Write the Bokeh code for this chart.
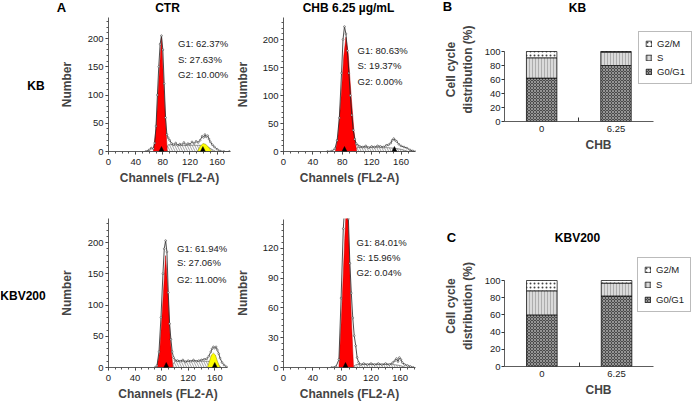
from bokeh.plotting import figure
from bokeh.layouts import row, column
from bokeh.models import (Range1d, SingleIntervalTicker, FixedTicker, Label, Legend,
                          LegendItem, Arrow, NormalHead, ColumnDataSource)
from bokeh.core.properties import value
from bokeh.embed import file_html
from bokeh.resources import INLINE

FONT = "Liberation Sans"

# ---------------- data ----------------
# KB, control: DNA histogram (channel, count)
kb_ctr_ch = [55, 60, 63, 66, 68, 70, 72, 74, 76, 78, 80, 82, 84, 86, 88, 90, 93, 96, 99, 102, 105, 108,
             111, 114, 117, 120, 123, 126, 129, 132, 135, 138, 140, 142, 144, 146, 148, 150, 153, 156,
             160, 164, 170, 178]
kb_ctr_n = [0, 3, 6, 5, 15, 45, 100, 150, 190, 205, 180, 120, 60, 30, 24, 20, 14, 12, 15, 11, 13, 12,
            16, 12, 14, 13, 17, 14, 18, 16, 20, 27, 25, 30, 26, 28, 22, 17, 12, 8, 4, 1, 0, 0]
kb_ctr_g1_ch = [66, 70, 74, 78, 82, 86.5]
kb_ctr_g1_n = [0, 40, 125, 202, 100, 0]
kb_ctr_s_ch = [84, 88, 95, 105, 115, 125, 135, 145, 152, 158]
kb_ctr_s_n = [0, 12, 12, 11, 11, 11, 11, 9, 4, 0]
kb_ctr_g2_ch = [131, 135, 139, 143, 147, 152]
kb_ctr_g2_n = [0, 9, 14, 13, 8, 0]
kb_ctr_peaks = [78, 139]
kb_ctr_text = ["G1: 62.37%", "S: 27.63%", "G2: 10.00%"]

# KB, CHB 6.25 ug/mL
kb_chb_ch = [60, 66, 70, 73, 76, 79, 81, 83, 85, 87, 89, 91, 93, 95, 97, 99, 101, 104, 108, 112, 116,
             120, 124, 128, 132, 136, 140, 143, 146, 148, 150, 152, 154, 157, 160, 164, 168, 172, 176, 180]
kb_chb_n = [0, 1, 5, 20, 60, 140, 200, 223, 210, 180, 140, 100, 65, 38, 22, 14, 11, 9, 8, 10, 7,
            9, 8, 10, 9, 8, 11, 12, 15, 20, 23, 20, 18, 13, 10, 8, 6, 3, 1, 0]
kb_chb_g1_ch = [70.5, 74, 78, 82, 85, 88, 92, 96, 99.6]
kb_chb_g1_n = [0, 25, 90, 170, 204, 175, 100, 35, 0]
kb_chb_s_ch = [96, 100, 110, 120, 130, 140, 150, 160, 170]
kb_chb_s_n = [0, 7, 7, 7, 7, 7, 6, 4, 0]
kb_chb_peaks = [83, 151]
kb_chb_text = ["G1: 80.63%", "S: 19.37%", "G2: 0.00%"]

# KBV200, control
kbv_ctr_ch = [70, 73, 76, 79, 82, 84, 86, 88, 90, 92, 94, 96, 98, 100, 104, 108, 112, 116, 120, 124,
              128, 132, 136, 140, 144, 148, 151, 154, 156, 158, 160, 162, 164, 166, 168, 171, 174, 178, 182]
kbv_ctr_n = [0, 3, 25, 80, 150, 190, 203, 185, 120, 70, 45, 25, 16, 12, 11, 10, 12, 9, 11, 10,
             12, 10, 11, 12, 13, 14, 18, 25, 30, 33, 31, 33, 28, 22, 15, 8, 4, 1, 0]
kbv_ctr_g1_ch = [73, 77, 81, 86, 89, 93, 97]
kbv_ctr_g1_n = [0, 25, 90, 179, 130, 45, 0]
kbv_ctr_s_ch = [94, 100, 110, 120, 130, 140, 150, 158, 164, 170]
kbv_ctr_s_n = [0, 10, 10, 10, 10, 10, 10, 9, 5, 0]
kbv_ctr_g2_ch = [149, 152, 155, 158, 161, 164, 168]
kbv_ctr_g2_n = [0, 10, 20, 23, 20, 10, 0]
kbv_ctr_peaks = [87, 160]
kbv_ctr_text = ["G1: 61.94%", "S: 27.06%", "G2: 11.00%"]

# KBV200, CHB 6.25 ug/mL
kbv_chb_ch = [66, 72, 76, 79, 82, 85, 87, 89, 91, 93, 95, 97, 99, 101, 103, 106, 110, 115, 120, 125,
              130, 135, 140, 145, 150, 153, 155, 157, 159, 161, 163, 166, 170, 174, 178]
kbv_chb_n = [0, 1, 8, 70, 140, 175, 178, 150, 105, 75, 50, 32, 22, 10, 5, 3, 4, 3, 4, 3,
             4, 3, 4, 3, 5, 7, 9, 6, 10, 8, 5, 3, 2, 1, 0]
kbv_chb_g1_ch = [76, 80, 84, 87, 90, 93, 96]
kbv_chb_g1_n = [0, 60, 130, 175, 120, 50, 0]
kbv_chb_s_ch = [93, 100, 110, 120, 130, 140, 150, 160, 168]
kbv_chb_s_n = [0, 3, 3, 3, 3, 3, 3, 2, 0]
kbv_chb_peaks = [85]
kbv_chb_text = ["G1: 84.01%", "S: 15.96%", "G2: 0.04%"]

# bar charts: cell cycle distribution (%)
doses = ["0", "6.25"]
kb_g0g1 = [62, 80]
kb_s = [29, 19]
kb_g2m = [9, 1]
kbv_g0g1 = [60, 82]
kbv_s = [28, 15]
kbv_g2m = [12, 3]


# ---------------- helpers ----------------
def make_fig(fig_x, fig_y, fig_w, fig_h, frame, xr, yr):
    l, t, r, b = frame
    p = figure(width=fig_w, height=fig_h, x_range=Range1d(*xr), y_range=Range1d(*yr),
               output_backend="svg", toolbar_location=None, title=None, frame_align=False,
               min_border_left=l - fig_x, min_border_right=fig_x + fig_w - r,
               min_border_top=t - fig_y, min_border_bottom=fig_y + fig_h - b)
    p.outline_line_color = None
    p.xgrid.visible = False
    p.ygrid.visible = False
    p.border_fill_color = "white"
    return p


def text_strip(x0, y0, w, h, items):
    p = figure(width=w, height=h, x_range=Range1d(x0, x0 + w), y_range=Range1d(y0 + h, y0),
               x_axis_location=None, y_axis_location=None, min_border=0, title=None,
               toolbar_location=None, output_backend="svg", frame_align=False)
    p.outline_line_color = None
    p.grid.visible = False
    for (tx, ty, t, size, align) in items:
        p.text(x=[tx], y=[ty], text=[t], text_font=value(FONT), text_font_size=value(f"{size}px"),
               text_font_style=value("bold"), text_align=value(align),
               text_baseline=value("middle"), text_color="black")
    return p


def put(p, frame, px, py, text, size, color="#222222"):
    l, t, r, b = frame
    p.add_layout(Label(x=px - l, y=b - py, x_units="screen", y_units="screen", text=text,
                       text_font=FONT, text_font_size=f"{size}px", text_align="left",
                       text_baseline="middle", text_color=color))


def style_axis(ax, label, label_standoff):
    ax.axis_label = label
    ax.axis_label_text_font = FONT
    ax.axis_label_text_font_size = "12px"
    ax.axis_label_text_font_style = "bold"
    ax.axis_label_standoff = label_standoff
    ax.major_label_text_font = FONT
    ax.major_label_text_font_size = "9.5px"
    ax.major_label_text_color = "#222222"
    ax.axis_line_color = "#333333"
    ax.axis_line_width = 0.8
    ax.major_tick_line_color = "#333333"
    ax.minor_tick_line_color = "#555555"


def histogram(fig_x, fig_y, fig_w, fig_h, frame, xscale, yscale, yint, ylab_off,
              ch, n, g1c, g1n, sc, sn, g2c, g2n, peaks, texts, text_x, text_ys, ybound=None):
    l, t, r, b = frame
    xr = (0, (r - l) / xscale)
    yr = (0, (b - t) / yscale)
    p = make_fig(fig_x, fig_y, fig_w, fig_h, frame, xr, yr)
    p.xaxis.ticker = SingleIntervalTicker(interval=40, num_minor_ticks=4)
    p.yaxis.ticker = SingleIntervalTicker(interval=yint, num_minor_ticks=5)
    if ybound is not None:
        p.yaxis.bounds = (0, ybound)
    style_axis(p.xaxis[0], "Channels (FL2-A)", 3)
    style_axis(p.yaxis[0], "Number", ylab_off)
    for ax in (p.xaxis[0], p.yaxis[0]):
        ax.major_tick_out = 3
        ax.major_tick_in = 0
        ax.minor_tick_out = 2
        ax.minor_tick_in = 0
    p.xaxis.major_label_standoff = 4
    p.yaxis.major_label_standoff = 2
    p.patch(sc, sn, fill_color=None, hatch_pattern="left_diagonal_line", hatch_color="#666666",
            hatch_scale=5, hatch_weight=0.6, line_color="#555555", line_width=0.6)
    p.patch(g1c, g1n, fill_color="#ff0000", line_color="#bb0000", line_width=0.5)
    if g2c:
        p.patch(g2c, g2n, fill_color="#ffff00", line_color="#888800", line_width=0.5)
    p.line(ch, n, line_color="#222222", line_width=0.8)
    p.scatter(ch, n, size=1.8, marker="circle", fill_color="white", line_color="#222222",
              line_width=0.5)
    head_h = 5 / yscale  # peak marker: small triangle resting on the channel axis
    for pk in peaks:
        p.add_layout(Arrow(end=NormalHead(size=5, fill_color="black", line_color="black",
                                          line_width=0.5),
                           x_start=pk, y_start=0, x_end=pk, y_end=head_h, line_alpha=0))
    for tx, ty in zip(texts, text_ys):
        put(p, frame, text_x, ty, tx, 9.5)
    return p


def barchart(fig_x, fig_y, fig_w, fig_h, frame, yscale, xscale, g1, s, g2, legend_loc,
             spacing):
    l, t, r, b = frame
    xs = [i + 1 for i in range(len(doses))]
    xr = (0.5, 0.5 + (r - l) / xscale)
    yr = (0, (b - t) / yscale)
    p = make_fig(fig_x, fig_y, fig_w, fig_h, frame, xr, yr)
    src = ColumnDataSource(dict(x=xs, g1=g1, s=s, g2=g2))
    rs = p.vbar_stack(["g1", "s", "g2"], x="x", width=0.41, source=src,
                      fill_color=["#4a4a4a", "#dadada", "white"],
                      hatch_pattern=["diagonal_cross", "vertical_line", "dot"],
                      hatch_color=["#c8c8c8", "#8f8f8f", "#444444"],
                      hatch_scale=[3, 3, 4], hatch_weight=[0.6, 0.6, 0.8],
                      line_color="black", line_width=0.7)
    p.xaxis.ticker = FixedTicker(ticks=xs, minor_ticks=[i + 1.5 for i in range(len(doses) - 1)])
    p.xaxis.major_label_overrides = {x: d for x, d in zip(xs, doses)}
    p.xaxis.bounds = (0.5, len(doses) + 0.5)
    p.yaxis.ticker = SingleIntervalTicker(interval=20, num_minor_ticks=0)
    p.yaxis.bounds = (0, 100)
    style_axis(p.xaxis[0], "CHB", 3)
    style_axis(p.yaxis[0], "Cell cycle\ndistribution (%)", 7)
    p.xaxis.major_tick_in = 0
    p.xaxis.major_tick_out = 0
    p.xaxis.minor_tick_in = 4
    p.xaxis.minor_tick_out = 0
    p.xaxis.minor_tick_line_color = "#333333"
    p.xaxis.major_label_standoff = 4
    p.yaxis.major_tick_out = 3
    p.yaxis.major_tick_in = 0
    p.yaxis.major_label_standoff = 1
    items = [LegendItem(label="G2/M", renderers=[rs[2]]),
             LegendItem(label="S", renderers=[rs[1]]),
             LegendItem(label="G0/G1", renderers=[rs[0]])]
    lg = Legend(items=items, location=legend_loc, glyph_width=7, glyph_height=7, label_height=11,
                label_standoff=5, spacing=spacing, padding=6, margin=0,
                label_text_font=FONT, label_text_font_size="9.5px", label_text_color="#222222",
                border_line_color="#777777", border_line_width=0.8, background_fill_alpha=1)
    p.add_layout(lg)
    return p


# ---------------- header & row labels (page 692 x 406) ----------------
header = text_strip(0, 0, 692, 17, [
    (61, 7, "A", 13, "center"),
    (167, 7, "CTR", 12, "center"),
    (348, 7, "CHB 6.25 \u00b5g/mL", 12, "center"),
    (447, 6, "B", 13, "center"),
    (577, 7, "KB", 12, "center"),
])
left = text_strip(0, 17, 56, 389, [
    (35.5, 85, "KB", 12, "center"),
    (22.5, 295, "KBV200", 12, "center"),
])

# ---------------- row 1 (page y 17..200) ----------------
p1 = histogram(56, 17, 176, 183, (102, 17, 230, 151), 0.7125, 0.565, 50, 11,
               kb_ctr_ch, kb_ctr_n, kb_ctr_g1_ch, kb_ctr_g1_n, kb_ctr_s_ch, kb_ctr_s_n,
               kb_ctr_g2_ch, kb_ctr_g2_n, kb_ctr_peaks, kb_ctr_text, 171.5, [43, 59, 74])
p2 = histogram(232, 17, 208, 183, (281, 17, 415, 151), 0.7458, 0.56, 50, 10,
               kb_chb_ch, kb_chb_n, kb_chb_g1_ch, kb_chb_g1_n, kb_chb_s_ch, kb_chb_s_n,
               [], [], kb_chb_peaks, kb_chb_text, 355, [50, 65, 80.5])
p3 = barchart(440, 17, 252, 183, (501, 17, 692, 121), 0.7, 75.5,
              kb_g0g1, kb_s, kb_g2m, (134, 37), 3)

# ---------------- row 2 (page y 200..406) ----------------
p4 = histogram(56, 200, 176, 206, (102, 218, 227, 367), 0.6975, 0.625, 50, 11,
               kbv_ctr_ch, kbv_ctr_n, kbv_ctr_g1_ch, kbv_ctr_g1_n, kbv_ctr_s_ch, kbv_ctr_s_n,
               kbv_ctr_g2_ch, kbv_ctr_g2_n, kbv_ctr_peaks, kbv_ctr_text, 170.5,
               [247.7, 262.3, 279])
p5 = histogram(232, 200, 208, 206, (280, 218, 415, 367), 0.7458, 0.9917, 30, 10,
               kbv_chb_ch, kbv_chb_n, kbv_chb_g1_ch, kbv_chb_g1_n, kbv_chb_s_ch, kbv_chb_s_n,
               [], [], kbv_chb_peaks, kbv_chb_text, 353, [241.7, 257.3, 272.3], ybound=149.5)
cstrip = text_strip(440, 200, 252, 45, [
    (451, 236.7, "C", 13, "center"),
    (577, 237.7, "KBV200", 12, "center"),
])
p6 = barchart(440, 245, 252, 161, (502, 245, 692, 366), 0.86, 75.5,
              kbv_g0g1, kbv_s, kbv_g2m, (133, 54), 4)

layout = column(
    header,
    row(left,
        column(row(p1, p2, p3, spacing=0),
               row(p4, p5, column(cstrip, p6, spacing=0), spacing=0),
               spacing=0),
        spacing=0),
    spacing=0)
open("out.html", "w").write(file_html(layout, INLINE))
